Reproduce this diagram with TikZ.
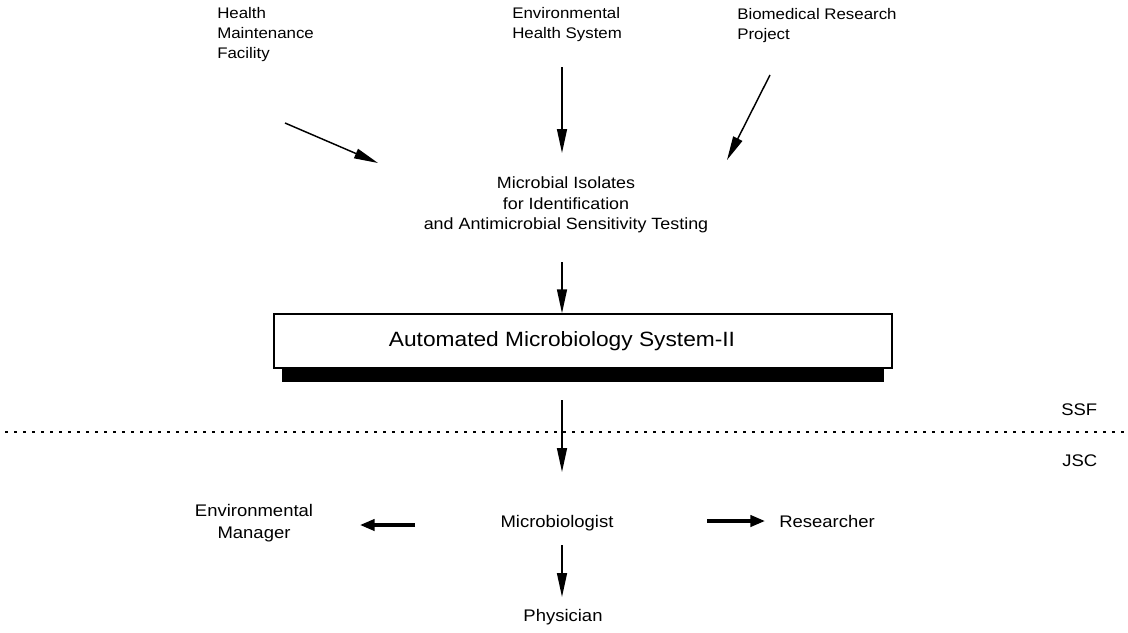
\documentclass[tikz,border=0pt]{standalone}
\usepackage{fontspec}
\setmainfont[FakeStretch=1.1]{Liberation Sans}
\usetikzlibrary{arrows.meta}

\begin{document}
\begin{tikzpicture}[x=0.75pt,y=-0.75pt]
\tikzstyle{label text} = [font=\fontsize{12.6}{16}\selectfont, inner sep=0pt]
\tikzstyle{source text} = [font=\fontsize{11.5}{15}\selectfont, inner sep=0pt, align=left, anchor=north west]
\tikzstyle{system box} = [draw, line width=1.1pt, fill=white, inner sep=0pt, minimum width=463.5pt, minimum height=40.5pt]
\tikzstyle{flow edge} = [draw, line width=1.1pt, -{Triangle[length=18pt,width=7.5pt]}]
\tikzstyle{thick edge} = [draw, line width=2.4pt, -{Triangle[length=11pt,width=8.5pt]}]
\tikzstyle{border line} = [draw, line width=2.2pt, dash pattern=on 2pt off 4.75pt]
\path[use as bounding box] (0,0) rectangle (1128,632);
\coordinate (c_1) at (285,123);
\coordinate (c_2) at (378,163);
\coordinate (c_3) at (562,67);
\coordinate (c_4) at (562,153);
\coordinate (c_5) at (770,75);
\coordinate (c_6) at (727,160);
\coordinate (c_7) at (562,262);
\coordinate (c_8) at (562,400);
\coordinate (c_9) at (562,472);
\coordinate (c_10) at (415,525);
\coordinate (c_11) at (360,525);
\coordinate (c_12) at (707,521);
\coordinate (c_13) at (765,521);
\coordinate (c_14) at (562,545);
\coordinate (c_15) at (562,597);
\node[source text] (hmf) at (217,7) {Health\\Maintenance\\Facility};
\node[source text] (ehs) at (512,7) {Environmental\\Health System};
\node[source text] (brp) at (737,8) {Biomedical Research\\Project};
\node[font=\fontsize{12.2}{15.5}\selectfont, inner sep=0pt, align=center] (isolates) at (566,205) {Microbial Isolates\\for Identification\\and Antimicrobial Sensitivity Testing};
\path[fill=black] (282,360) rectangle (884,382);
\node[system box] (ams) at (583,341) {};
\node[font=\fontsize{15.5}{18}\selectfont, inner sep=0pt] (amstext) at (562,341) {Automated Microbiology System-II};
\path[border line] (5,432) -- (1128,432);
\node[label text, anchor=west] (ssf) at (1061,410) {SSF};
\node[label text, anchor=west] (jsc) at (1062,461) {JSC};
\node[label text, align=center] (envman) at (254,523) {Environmental\\Manager};
\node[label text] (micro) at (557,523) {Microbiologist};
\node[label text, anchor=west] (research) at (779,521) {Researcher};
\node[label text] (phys) at (563,617) {Physician};
\path[flow edge] (c_1) -- (c_2);
\path[flow edge] (c_3) -- (c_4);
\path[flow edge] (c_5) -- (c_6);
\path[flow edge] (c_7) -- (c_7 |- ams.north);
\path[flow edge] (c_8) -- (c_9);
\path[thick edge] (c_10) -- (c_11);
\path[thick edge] (c_12) -- (c_13);
\path[flow edge] (c_14) -- (c_15);
\end{tikzpicture}
\end{document}
